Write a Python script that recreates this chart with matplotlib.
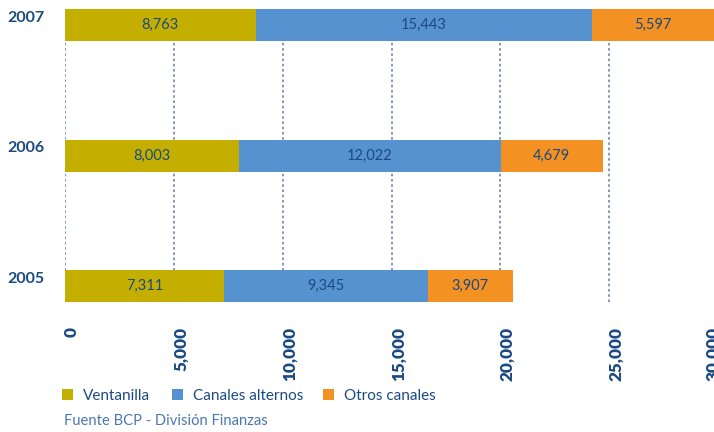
import matplotlib
matplotlib.use("Agg")
import matplotlib.pyplot as plt
from matplotlib.patches import Patch
from matplotlib.transforms import ScaledTranslation

years = ["2005", "2006", "2007"]
series_names = ["Ventanilla", "Canales alternos", "Otros canales"]
ventanilla = [7311, 8003, 8763]
canales_alternos = [9345, 12022, 15443]
otros_canales = [3907, 4679, 5597]
xticks = [0, 5000, 10000, 15000, 20000, 25000, 30000]
source = "Fuente BCP - División Finanzas"

colors = ["#C4AF00", "#5592CF", "#F39122"]
dark = "#1B4A82"
plt.rcParams["font.family"] = ["Lato", "DejaVu Sans"]

W, H = 714, 432
fig = plt.figure(figsize=(W / 100, H / 100), dpi=100)
# axes: x=0 at px 65, 30000 at px 718; y px 0..312
ax = fig.add_axes([65 / W, 1 - 312 / H, (718 - 65) / W, 312 / H])
ax.set_xlim(0, 30000)
pxu = 130.5
ax.set_ylim(-26 / pxu, 2 + 25 / pxu)
bh = 32 / pxu

ypos = list(range(len(years)))
# dotted grid
ax.vlines(xticks, -bh / 2, 2 + bh / 2, colors="#7590B8", linestyles=(0, (1.4, 1.5)),
          linewidth=1.3, zorder=1)

left = [0] * len(years)
for vals, c in zip([ventanilla, canales_alternos, otros_canales], colors):
    ax.barh(ypos, vals, left=left, height=bh, color=c, zorder=2)
    for y, v, l in zip(ypos, vals, left):
        ax.text(l + v / 2, y, f"{v:,}", ha="center", va="center", color=dark,
                fontsize=10.5, zorder=3)
    left = [a + b for a, b in zip(left, vals)]

for s in ax.spines.values():
    s.set_visible(False)
ax.set_yticks(ypos)
ax.set_yticklabels(years, fontsize=11.5, fontweight="bold", color=dark)
ax.tick_params(axis="y", length=0, pad=14.4)
off = ScaledTranslation(0, 8.5 / 100, fig.dpi_scale_trans)
for lab in ax.get_yticklabels():
    lab.set_transform(lab.get_transform() + off)
ax.set_xticks(xticks)
ax.set_xticklabels([f"{t:,}" for t in xticks], rotation=90, fontsize=12.3,
                   fontweight="heavy", color=dark, va="top")
ax.tick_params(axis="x", length=0, pad=10.5)
xlabs = ax.get_xticklabels()
for i, lab in enumerate(xlabs):
    dx = 7 if i < len(xlabs) - 1 else -5
    lab.set_transform(lab.get_transform() + ScaledTranslation(dx / 100, 0, fig.dpi_scale_trans))

xs = [64, 174, 325]
for name, c, x0 in zip(series_names, colors, xs):
    leg = fig.legend([Patch(facecolor=c, edgecolor="none")], [name], loc="center left",
                     bbox_to_anchor=((x0 - 2) / W, 1 - 396 / H), frameon=False,
                     fontsize=11, handlelength=0.75, handleheight=0.75,
                     handletextpad=0.6, borderaxespad=0, borderpad=0)
    for t in leg.get_texts():
        t.set_color(dark)

fig.text(64 / W, 1 - 421 / H, source, ha="left", va="center", color="#4A78AE",
         fontsize=10.6)

fig.savefig("out.png", dpi=100)
